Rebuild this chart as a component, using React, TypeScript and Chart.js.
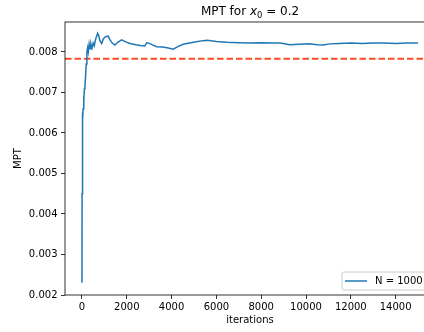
import React, { useEffect, useRef } from 'react';
import { Chart, registerables } from 'chart.js';

Chart.register(...registerables);

// ---- data ----
const iterations = [
  0, 5, 10, 20, 30, 40, 50, 70, 90, 110, 134, 160, 190, 220, 250, 280, 320, 360, 400, 450,
  500, 550, 600, 650, 700, 750, 800, 880, 950, 1050, 1170, 1250, 1350, 1470, 1600, 1770,
  1950, 2140, 2400, 2600, 2800, 2900, 3050, 3330, 3600, 3850, 4070, 4300, 4520, 4800,
  5100, 5400, 5600, 6000, 6450, 7000, 7500, 8000, 8500, 8850, 9270, 9700, 10165, 10500,
  10760, 11060, 11500, 12000, 12500, 13000, 13500, 14000, 14500, 15000,
];
const mptValues = [
  0.0023, 0.0045, 0.0057, 0.0057, 0.0065, 0.0063, 0.0066, 0.0069, 0.0068, 0.0071, 0.00716,
  0.0074, 0.0077, 0.008, 0.0081, 0.008, 0.0082, 0.00808, 0.0082, 0.0081, 0.00822, 0.00815,
  0.0083, 0.00838, 0.00846, 0.0084, 0.00828, 0.00821, 0.00832, 0.00838, 0.00839, 0.0083,
  0.00822, 0.00817, 0.00824, 0.0083, 0.00825, 0.00821, 0.00818, 0.00816, 0.00815, 0.00823,
  0.0082, 0.00813, 0.00812, 0.0081, 0.00807, 0.00814, 0.00819, 0.00822, 0.00825, 0.00828,
  0.00829, 0.00826, 0.00824, 0.00823, 0.00822, 0.00823, 0.00822, 0.00822, 0.00818, 0.00819,
  0.0082, 0.00818, 0.00817, 0.0082, 0.00821, 0.00822, 0.00821, 0.00822, 0.00822, 0.00821,
  0.00822, 0.00822,
];
const referenceValue = 0.00783;
const seriesLabel = 'N = 1000';
const xTickValues = [0, 2000, 4000, 6000, 8000, 10000, 12000, 14000];
const yTickValues = [0.002, 0.003, 0.004, 0.005, 0.006, 0.007, 0.008];
const xLimits = [-758, 15758];
const yLimits = [0.002, 0.00874];

const FONT = '"DejaVu Sans", sans-serif';
const BLUE = '#1f77b4';
const RED = '#ff4b26';

const decorPlugin = {
  id: 'decor',
  afterDraw(chart: any) {
    const { ctx, chartArea: a } = chart;
    ctx.save();
    // spines
    ctx.strokeStyle = '#000';
    ctx.lineWidth = 0.8;
    ctx.strokeRect(a.left, a.top, a.right - a.left, a.bottom - a.top);

    // title: MPT for x_0 = 0.2
    const parts: [string, string, number][] = [
      ['MPT for ', `12px ${FONT}`, 0],
      ['x', `italic 12px ${FONT}`, 0],
      ['0', `8.4px ${FONT}`, 2.5],
      [' = 0.2', `12px ${FONT}`, 0],
    ];
    let total = 0;
    for (const [t, f] of parts) {
      ctx.font = f;
      total += ctx.measureText(t).width;
    }
    let x = (a.left + a.right) / 2 - total / 2;
    const by = 15;
    ctx.fillStyle = '#000';
    ctx.textBaseline = 'alphabetic';
    ctx.textAlign = 'left';
    for (const [t, f, dy] of parts) {
      ctx.font = f;
      ctx.fillText(t, x, by + dy);
      x += ctx.measureText(t).width;
    }

    // legend (lower right inside axes)
    const w = 88;
    const h = 18;
    const right = a.right - 5;
    const bottom = a.bottom - 5;
    const left = right - w;
    const top = bottom - h;
    ctx.beginPath();
    if (ctx.roundRect) ctx.roundRect(left, top, w, h, 2);
    else ctx.rect(left, top, w, h);
    ctx.fillStyle = 'rgba(255,255,255,0.8)';
    ctx.fill();
    ctx.strokeStyle = '#cccccc';
    ctx.lineWidth = 1;
    ctx.stroke();
    const ly = top + h / 2;
    ctx.beginPath();
    ctx.moveTo(left + 3, ly);
    ctx.lineTo(left + 25, ly);
    ctx.strokeStyle = BLUE;
    ctx.lineWidth = 1.5;
    ctx.stroke();
    ctx.fillStyle = '#000';
    ctx.font = `10px ${FONT}`;
    ctx.textBaseline = 'middle';
    ctx.fillText(seriesLabel, left + 33, ly + 0.5);
    ctx.restore();
  },
};

export default function App() {
  const ref = useRef<HTMLCanvasElement | null>(null);

  useEffect(() => {
    if (!ref.current) return;
    Chart.defaults.font.family = FONT;
    Chart.defaults.font.size = 10;
    Chart.defaults.color = '#000';
    const seriesData = iterations.map((it, i) => ({ x: it, y: mptValues[i] }));
    const refData = xLimits.map((xv) => ({ x: xv, y: referenceValue }));
    const chart = new Chart(ref.current, {
      type: 'line',
      data: {
        datasets: [
          {
            label: seriesLabel,
            data: seriesData,
            borderColor: BLUE,
            borderWidth: 1.5,
            pointRadius: 0,
            tension: 0,
          },
          {
            label: 'reference',
            data: refData,
            borderColor: RED,
            borderWidth: 2,
            borderDash: [6.5, 3],
            pointRadius: 0,
          },
        ],
      },
      options: {
        responsive: false,
        animation: false,
        devicePixelRatio: 1,
        layout: { padding: { top: 22, right: 5, left: 0, bottom: 0 } },
        plugins: {
          legend: { display: false },
          tooltip: { enabled: false },
          title: { display: false },
        },
        scales: {
          x: {
            type: 'linear',
            min: xLimits[0],
            max: xLimits[1],
            afterBuildTicks: (s: any) => {
              s.ticks = xTickValues.map((v) => ({ value: v }));
            },
            afterFit: (s: any) => {
              s.height = 37;
            },
            grid: {
              drawOnChartArea: false,
              drawTicks: true,
              tickLength: 4,
              color: '#000',
              lineWidth: 0.8,
            },
            border: { display: false },
            ticks: {
              padding: 2,
              maxRotation: 0,
              autoSkip: false,
              callback: (v: any) => String(v),
            },
            title: { display: true, text: 'iterations', padding: { top: 0, bottom: 6 } },
          },
          y: {
            type: 'linear',
            min: yLimits[0],
            max: yLimits[1],
            afterBuildTicks: (s: any) => {
              s.ticks = yTickValues.map((v) => ({ value: v }));
            },
            afterFit: (s: any) => {
              s.width = 65;
            },
            grid: {
              drawOnChartArea: false,
              drawTicks: true,
              tickLength: 4,
              color: '#000',
              lineWidth: 0.8,
            },
            border: { display: false },
            ticks: {
              padding: 3.5,
              autoSkip: false,
              callback: (v: any) => Number(v).toFixed(3),
            },
            title: { display: true, text: 'MPT', padding: { top: 12, bottom: 0 } },
          },
        },
      },
      plugins: [decorPlugin],
    });
    return () => chart.destroy();
  }, []);

  return (
    <div
      style={{
        position: 'fixed',
        left: 0,
        top: 0,
        width: 424,
        height: 332,
        overflow: 'hidden',
        background: '#fff',
      }}
    >
      <canvas ref={ref} width={440} height={332} style={{ display: 'block', width: 440, height: 332 }} />
    </div>
  );
}
